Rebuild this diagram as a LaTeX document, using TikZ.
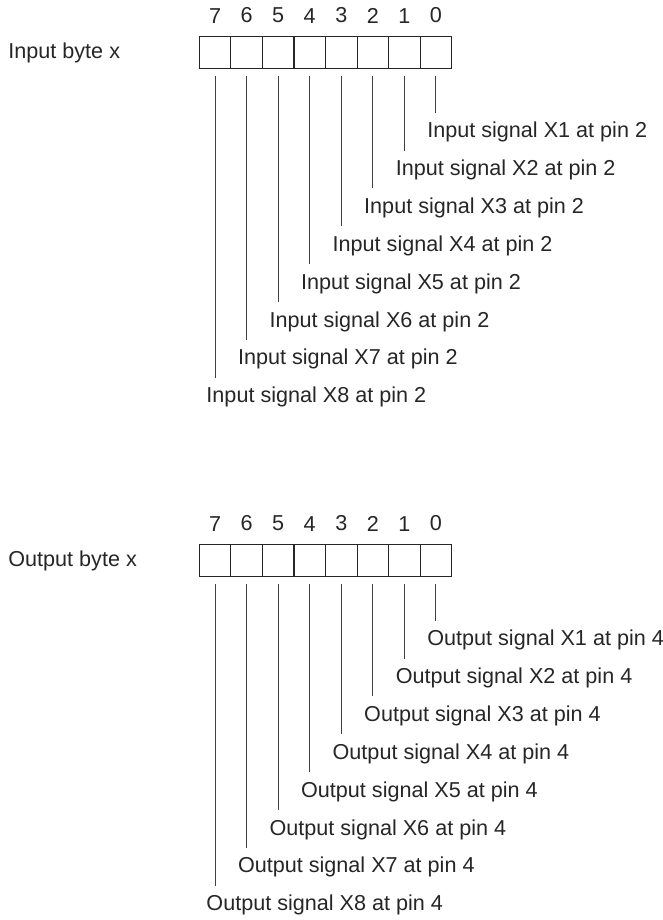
\documentclass[tikz,border=0pt]{standalone}
\usepackage{fontspec}
\setmainfont{Liberation Sans}
\usetikzlibrary{positioning}

\begin{document}
\begin{tikzpicture}[x=0.5pt,y=-0.5pt,
  font=\fontsize{10.8}{13}\selectfont, color=black!85,
  bitcell/.style={draw, line width=0.55pt, minimum width=15.78pt, minimum height=15.8pt, inner sep=0pt},
  bitnum/.style={inner sep=0pt},
  sigtext/.style={anchor=base west, inner xsep=0pt, inner ysep=4.5pt},
  wire/.style={line width=0.5pt, black!75}]
\useasboundingbox (0,0) rectangle (663,920);
\foreach \pre/\word/\pin/\dy in {in/Input/2/0, out/Output/4/508}{
  \node[anchor=base west, inner sep=0pt] (\pre head) at (8,58.3+\dy) {\word\ byte x};
  \foreach \b in {0,...,7}{
    \pgfmathtruncatemacro\k{\b+1}
    \node[bitcell] (\pre bit\b) at ({199.3+31.55*(7.5-\b)},52.5+\dy) {};
    \node[bitnum, above=6.3pt of \pre bit\b] (\pre num\b) {\b};
    \node[sigtext] (\pre sig\k) at ({199.3+31.55*(7.5-\b)-9},{137.7+37.86*\b+\dy}) {\word\ signal X\k\ at pin \pin};
    \draw[wire] ([yshift=-3.5pt]\pre bit\b.south) -- (\pre bit\b.south |- \pre sig\k.north);
  }
}
\end{tikzpicture}
\end{document}
